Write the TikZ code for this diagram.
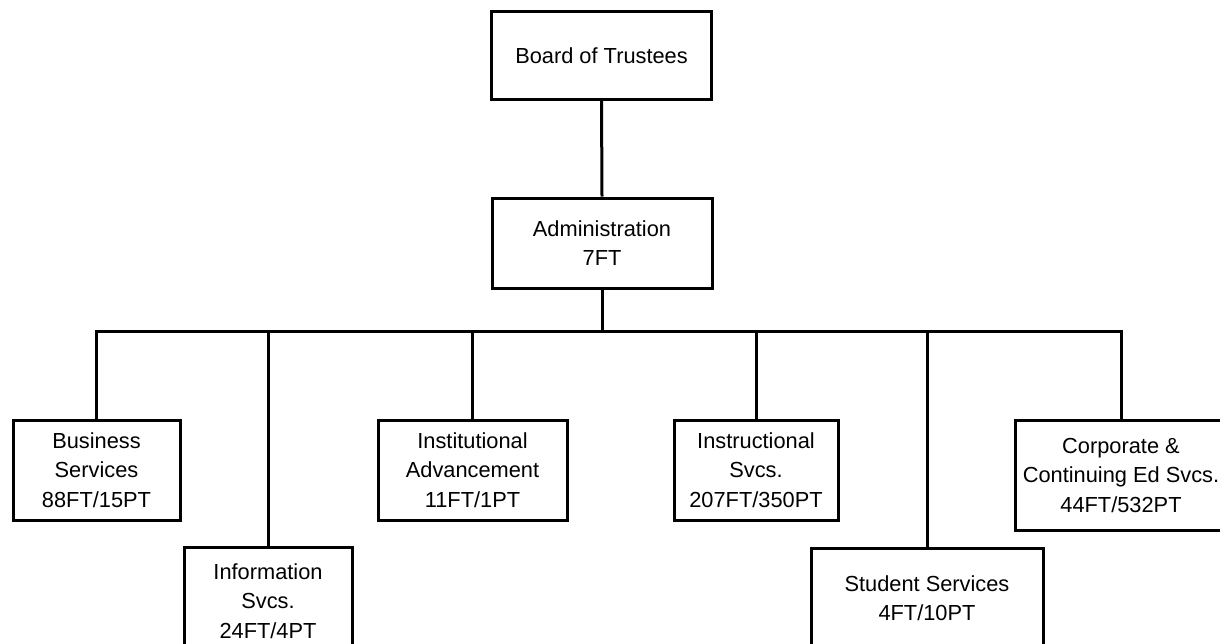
\documentclass[tikz,border=0pt]{standalone}
\usepackage{fontspec}
\setmainfont{Liberation Sans}
\begin{document}
\begin{tikzpicture}[x=0.5pt,y=-0.5pt,
  orgbox/.style={draw=black, line width=1.5pt, fill=white, align=center,
    font=\fontsize{10.9}{14.75}\selectfont, inner sep=0pt},
  link/.style={line width=1.5pt}]
\useasboundingbox (0,0) rectangle (1220,643);
\clip (0,0) rectangle (1220,643);
\node[orgbox, minimum width=110pt, minimum height=44pt] (board) at (601.5,55.5) {Board of Trustees};
\node[orgbox, minimum width=110pt, minimum height=45pt] (admin) at (602,243) {Administration\\7FT};
\node[orgbox, minimum width=83.5pt, minimum height=50pt] (bus) at (96.5,470) {Business\\Services\\88FT/15PT};
\node[orgbox, minimum width=84pt, minimum height=54pt] (info) at (268,601) {Information\\Svcs.\\24FT/4PT};
\node[orgbox, minimum width=94.5pt, minimum height=50pt] (inst) at (472.5,470) {Institutional\\Advancement\\11FT/1PT};
\node[orgbox, minimum width=82pt, minimum height=50pt] (instr) at (756,470) {Instructional\\Svcs.\\207FT/350PT};
\node[orgbox, minimum width=116pt, minimum height=50pt] (stud) at (927,598) {Student Services\\4FT/10PT};
\node[orgbox, minimum width=106pt, minimum height=55pt] (corp) at (1121,475) {Corporate \&\\Continuing Ed Svcs.\\44FT/532PT};
\coordinate (hub) at (602,331);
\draw[link] (board.south) -- (admin.north);
\draw[link] (admin.south) -- (hub);
\draw[link] (bus.north) |- (hub) -| (corp.north);
\draw[link] (info.north) -- (info.north |- hub);
\draw[link] (inst.north) -- (inst.north |- hub);
\draw[link] (instr.north) -- (instr.north |- hub);
\draw[link] (stud.north) -- (stud.north |- hub);
\end{tikzpicture}
\end{document}
